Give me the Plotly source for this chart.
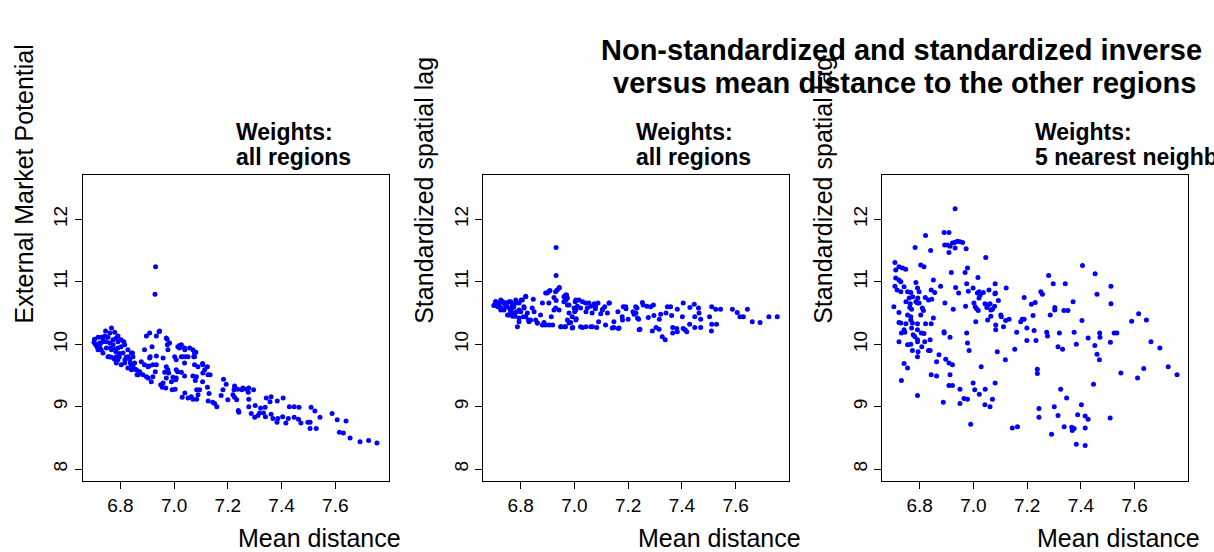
import plotly.graph_objects as go

# ---------------- data (mean distance, value) ----------------
# Panel 1: External market potential vs mean distance (weights: all regions)
emp_points = [
    (6.745,10.21),(6.767,10.26),(6.761,10.18),(6.779,10.19),(6.791,10.13),(6.785,10.10),(6.773,10.07),
    (6.754,10.11),(6.742,10.13),(6.729,10.11),(6.717,10.11),(6.704,10.08),(6.702,10.03),(6.710,9.99),
    (6.723,10.02),(6.735,10.04),(6.748,10.04),(6.761,10.02),(6.773,9.99),(6.791,10.04),(6.803,10.07),
    (6.813,10.04),(6.816,9.99),(6.803,9.96),(6.791,9.94),(6.779,9.92),(6.767,9.91),(6.748,9.94),
    (6.729,9.91),(6.723,9.95),(6.717,9.91),(6.735,9.86),(6.754,9.80),(6.767,9.79),(6.785,9.80),
    (6.797,9.85),(6.810,9.86),(6.822,9.79),(6.828,9.91),(6.841,9.86),(6.847,9.80),(6.791,9.75),
    (6.785,9.70),(6.803,9.67),(6.816,9.70),(6.835,9.75),(6.841,9.67),(6.853,9.70),(6.847,9.64),
    (6.828,9.62),(6.841,9.59),(6.860,9.59),(6.872,9.56),(6.866,9.51),(6.884,9.51),(6.897,9.48),
    (6.903,9.46),(6.915,9.40),(6.921,9.48),(6.890,9.67),(6.903,9.64),(6.921,9.67),(6.934,9.67),
    (6.930,9.56),(6.959,9.78),(6.977,9.91),(6.975,9.99),(6.983,10.02),(6.971,10.10),(7.002,9.80),
    (7.014,9.96),(7.027,9.99),(7.020,9.94),(7.039,9.94),(7.058,9.94),(7.070,9.91),(7.076,9.86),
    (7.076,9.80),(7.052,9.80),(7.033,9.80),(7.039,9.70),(7.076,9.67),(7.089,9.64),(7.107,9.67),
    (7.114,9.59),(7.126,9.51),(7.107,9.54),(7.083,9.48),(7.070,9.49),(7.039,9.49),(7.027,9.55),
    (7.008,9.59),(6.977,9.59),(6.965,9.55),(6.971,9.46),(6.990,9.40),(7.008,9.46),(6.959,9.38),
    (6.897,10.13),(6.909,10.18),(6.934,10.13),(6.946,10.21),(6.918,9.96),(6.890,9.91),(6.909,9.78),
    (6.878,9.72),(6.934,9.81),(6.931,11.24),(6.929,10.80),
    (6.707,10.00),(6.713,9.96),(6.726,10.01),(6.736,10.10),(6.759,9.80),(6.763,9.94),(6.778,9.76),
    (6.783,9.88),(6.796,9.80),(6.817,9.75),(6.829,9.80),(6.837,9.70),(6.845,9.86),(6.853,9.60),
    (6.862,9.51),(6.872,9.54),(6.907,9.65),(6.911,9.80),(6.944,10.20),
    (6.950,9.35),(6.956,9.31),(6.969,9.30),(6.980,9.54),(6.993,9.27),(7.004,9.28),(7.006,9.43),
    (7.013,9.56),(7.030,9.15),(7.040,9.22),(7.052,9.14),(7.064,9.16),(7.070,9.12),(7.084,9.12),
    (7.084,9.27),(7.089,9.19),(7.095,9.27),(7.079,9.42),(7.106,9.40),(7.106,9.69),(7.124,9.64),
    (7.130,9.21),(7.127,9.09),(7.124,9.31),(7.134,9.51),(7.081,9.87),(7.073,9.80),(7.043,9.80),
    (7.040,9.91),(7.027,9.80),(7.020,9.98),(7.008,9.75),(6.996,9.47),(6.974,10.08),(6.971,9.64),
    (7.144,9.07),(7.151,9.05),(7.159,9.00),(7.175,9.18),(7.182,9.27),(7.184,9.44),(7.194,9.36),
    (7.200,9.11),(7.219,9.19),(7.223,9.27),(7.225,9.33),(7.225,9.15),(7.233,9.11),(7.237,9.28),
    (7.239,8.94),(7.241,8.91),(7.252,9.27),(7.256,9.30),(7.269,9.28),(7.278,9.30),(7.276,9.23),
    (7.278,9.12),(7.278,9.00),(7.287,8.89),(7.296,9.27),(7.300,8.83),(7.302,9.02),(7.312,8.86),
    (7.318,8.90),(7.322,8.98),(7.333,8.90),(7.339,8.99),(7.340,8.84),(7.343,9.14),(7.357,9.08),
    (7.361,9.16),(7.361,8.88),(7.368,8.81),(7.384,9.09),(7.383,8.75),(7.386,8.81),(7.404,8.84),
    (7.406,9.14),(7.416,8.74),(7.425,8.81),(7.429,9.00),(7.447,9.00),(7.447,8.83),(7.463,8.80),
    (7.465,8.99),(7.472,8.74),(7.498,8.75),(7.506,8.65),(7.506,8.75),(7.510,8.99),(7.524,8.93),
    (7.529,8.65),(7.543,8.83),(7.588,8.89),(7.607,8.79),(7.615,8.59),(7.630,8.58),(7.640,8.77),
    (7.655,8.50),(7.692,8.44),(7.724,8.46),(7.755,8.42),
]

# Panel 2: standardized spatial lag (weights: all regions)
lag_all_points = [
    (6.932,11.55),(6.932,11.10),(7.755,10.44),(7.724,10.44),(7.691,10.35),(7.662,10.36),(7.644,10.56),
    (7.629,10.44),(7.616,10.44),(7.606,10.51),(7.588,10.56),(7.544,10.56),(7.529,10.32),(7.526,10.56),
    (7.511,10.60),(7.511,10.32),(7.510,10.21),(7.503,10.44),(7.470,10.27),(7.470,10.40),(7.464,10.50),
    (7.462,10.58),(7.448,10.27),(7.448,10.44),(7.446,10.64),(7.430,10.59),(7.429,10.32),(7.418,10.20),
    (7.412,10.23),(7.405,10.25),(7.405,10.66),(7.402,10.44),(7.383,10.56),(7.383,10.20),(7.381,10.25),
    (7.366,10.18),(7.366,10.27),(7.362,10.46),(7.358,10.60),(7.346,10.60),(7.341,10.50),(7.338,10.07),
    (7.327,10.12),(7.321,10.48),(7.315,10.24),(7.316,10.40),(7.304,10.27),(7.296,10.46),(7.294,10.63),
    (7.290,10.21),(7.284,10.60),(7.275,10.43),(7.270,10.61),(7.256,10.63),(7.253,10.67),(7.244,10.24),
    (7.239,10.40),(7.233,10.58),(7.229,10.50),(7.228,10.60),(7.222,10.48),(7.218,10.52),(7.200,10.40),
    (7.192,10.57),(7.182,10.60),(7.178,10.44),(7.164,10.25),(7.162,10.52),(7.147,10.27),(7.147,10.36),
    (7.130,10.66),(7.123,10.50),(7.116,10.31),(7.113,10.60),(7.105,10.56),(7.098,10.49),(7.090,10.36),
    (7.088,10.66),(7.083,10.27),(7.078,10.57),(7.074,10.65),(7.067,10.28),(7.066,10.50),(7.061,10.61),
    (7.054,10.66),(7.048,10.58),(7.043,10.28),(7.043,10.52),(7.030,10.27),(7.030,10.68),(7.023,10.58),
    (7.017,10.71),(7.011,10.61),(7.007,10.41),(7.003,10.68),(7.001,10.52),(6.999,10.58),(6.994,10.27),
    (6.986,10.35),(6.980,10.50),(6.974,10.63),(6.971,10.79),(6.968,10.71),(6.961,10.76),(6.964,10.28),
    (6.951,10.28),(6.944,10.91),(6.936,10.87),(6.932,10.70),(6.930,10.58),(6.924,10.75),(6.919,10.31),
    (6.914,10.44),(6.909,10.86),(6.905,10.66),(6.899,10.82),(6.893,10.31),(6.887,10.35),(6.881,10.66),
    (6.874,10.47),(6.862,10.34),(6.856,10.39),(6.850,10.52),(6.847,10.72),(6.843,10.58),(6.837,10.39),
    (6.831,10.36),(6.825,10.50),(6.819,10.77),(6.812,10.60),(6.810,10.44),(6.802,10.71),(6.800,10.52),
    (6.794,10.42),(6.788,10.28),(6.781,10.66),(6.776,10.50),(6.769,10.58),(6.763,10.68),(6.757,10.47),
    (6.750,10.60),(6.744,10.66),(6.738,10.55),(6.732,10.68),(6.726,10.58),(6.719,10.66),(6.713,10.61),
    (6.707,10.68),(6.703,10.63),(6.726,10.71),
    (6.707,10.68),(6.720,10.63),(6.732,10.68),(6.745,10.60),(6.757,10.68),(6.769,10.63),(6.782,10.71),
    (6.794,10.66),(6.806,10.71),(6.763,10.52),(6.751,10.47),(6.776,10.47),(6.794,10.55),(6.813,10.58),
    (6.726,10.55),(6.819,10.76),(6.829,10.39),(6.794,10.36),(6.819,10.44),(6.700,10.62),(6.712,10.65),
    (6.716,10.60),(6.740,10.64),(6.748,10.66),(6.760,10.57),(6.775,10.60),(6.785,10.52),(6.770,10.45),
    (6.780,10.45),(6.893,10.82),(6.906,10.85),(6.930,10.84),(6.943,10.90),(6.924,10.55),(6.943,10.55),
    (6.974,10.74),(6.967,10.79),(6.961,10.68),(6.980,10.63),(7.005,10.71),(7.042,10.66),(7.079,10.60),
    (7.104,10.55),(7.129,10.66),(6.992,10.44),(7.005,10.55),(6.974,10.39),(7.005,10.39),(6.980,10.34),
    (6.862,10.34),(6.881,10.31),(6.906,10.31),(6.949,10.28),(6.967,10.28),(6.992,10.26),(7.023,10.28),
    (7.061,10.28),(7.141,10.26),(7.166,10.26),(7.241,10.23),(7.179,10.39),(7.191,10.60),(7.235,10.42),
]

# Panel 3: standardized spatial lag (weights: 5 nearest neighbours)
lag_knn_points = [
    (6.932,12.17),(6.891,11.79),(6.909,11.79),(6.822,11.74),(6.893,11.59),(6.903,11.59),(6.913,11.57),
    (6.922,11.62),(6.930,11.63),(6.940,11.65),(6.950,11.64),(6.960,11.63),(6.932,11.54),(6.909,11.47),
    (6.973,11.53),(6.783,11.55),(6.841,11.50),(7.046,11.39),(6.804,11.27),(6.816,11.24),(7.406,11.26),
    (6.708,11.31),(6.723,11.24),(6.736,11.22),(6.748,11.20),(6.711,11.19),(6.978,11.22),(6.969,11.15),
    (6.918,11.15),(7.453,11.13),(7.280,11.10),(7.017,11.07),(6.851,11.03),(6.711,11.06),(6.723,11.03),
    (6.730,11.00),(6.786,10.99),(6.878,10.93),(6.975,10.97),(7.081,10.97),(7.297,10.97),(7.342,10.97),
    (7.512,10.93),(6.934,10.91),(6.742,10.92),(6.708,10.93),(6.716,10.87),(6.730,10.84),(6.755,10.84),
    (6.767,10.83),(6.792,10.90),(6.798,10.84),(6.843,10.87),(6.856,10.83),(6.945,10.82),(6.981,10.85),
    (6.999,10.90),(7.021,10.84),(7.037,10.83),(7.058,10.87),(7.122,10.90),(7.251,10.84),(7.257,10.80),
    (7.460,10.80),(7.082,10.82),(7.015,10.82),(6.774,10.76),(6.793,10.74),(6.821,10.75),(6.833,10.71),
    (6.845,10.72),(6.749,10.68),(6.761,10.74),(6.765,10.65),(6.786,10.68),(6.792,10.66),(6.798,10.66),
    (7.021,10.74),(7.025,10.79),(7.093,10.70),(7.080,10.81),(7.189,10.75),(7.230,10.67),(7.216,10.64),
    (7.371,10.68),(7.512,10.65),(6.704,10.60),(6.763,10.59),(6.770,10.56),(6.810,10.58),(6.814,10.54),
    (6.894,10.66),(6.925,10.56),(6.971,10.61),(7.002,10.66),(7.007,10.60),(7.012,10.57),(7.018,10.54),
    (7.043,10.65),(7.050,10.59),(7.055,10.63),(7.062,10.65),(7.071,10.56),(7.079,10.61),(7.065,10.55),
    (7.102,10.47),(7.104,10.44),(7.120,10.38),(7.133,10.40),(7.176,10.36),(7.182,10.40),(7.189,10.40),
    (7.222,10.46),(7.303,10.59),(7.303,10.55),(7.286,10.47),(7.337,10.54),(7.352,10.54),(7.404,10.38),
    (7.589,10.37),(7.615,10.49),(7.644,10.39),(6.723,10.51),(6.755,10.47),(6.767,10.44),(6.804,10.47),
    (6.851,10.42),(6.843,10.33),(6.822,10.33),(6.767,10.39),(6.723,10.35),(6.730,10.34),(6.749,10.33),
    (6.773,10.34),(6.792,10.33),(7.009,10.36),(7.053,10.39),(7.065,10.45),(7.083,10.31),(7.112,10.28),
    (6.891,10.20),(6.891,10.18),(7.083,10.23),(7.161,10.19),(7.199,10.26),(7.226,10.22),(7.273,10.19),
    (7.276,10.13),(7.320,10.18),(7.375,10.19),(7.470,10.18),(7.471,10.11),(7.524,10.18),(7.534,10.18),
    (7.427,10.10),(6.742,10.23),(6.732,10.18),(6.745,10.19),(6.770,10.26),(6.792,10.23),(6.776,10.15),
    (6.782,10.12),(6.792,10.07),(6.806,10.18),(6.816,10.17),(6.819,10.04),(6.839,10.07),(6.723,10.04),
    (6.755,9.99),(6.767,10.00),(6.792,10.04),(6.808,9.96),(6.913,10.11),(6.975,10.18),(6.978,10.02),
    (7.199,10.06),(7.233,10.06),(7.383,10.00),(7.510,10.03),(7.452,9.98),(7.315,9.96),(7.332,9.92),
    (6.984,9.90),(7.089,9.88),(7.154,9.92),(6.833,9.90),(6.839,9.90),(6.773,9.90),(6.794,9.88),
    (6.792,9.80),(6.872,9.83),(6.897,9.76),(6.909,9.70),(6.922,9.67),(6.863,9.72),(7.119,9.75),
    (7.460,9.84),(7.469,9.75),(6.742,9.69),(6.755,9.62),(7.029,9.64),(7.238,9.60),(7.238,9.53),
    (7.549,9.54),(7.634,9.61),(7.611,9.46),(7.758,9.51),(7.725,9.64),(7.694,9.94),(7.661,10.04),
    (6.843,9.51),(6.863,9.49),(6.913,9.51),(6.732,9.42),(7.447,9.36),(7.081,9.38),(6.999,9.38),
    (6.909,9.34),(6.922,9.34),(6.950,9.28),(7.005,9.27),(7.044,9.28),(7.325,9.28),(7.022,9.20),
    (6.792,9.18),(7.347,9.14),(6.965,9.13),(6.978,9.12),(7.071,9.12),(6.950,9.05),(6.888,9.07),
    (7.043,9.03),(7.062,9.00),(7.301,9.00),(7.402,9.03),(7.244,8.97),(7.315,8.86),(7.388,8.87),
    (7.416,8.85),(7.427,8.80),(7.244,8.83),(7.509,8.82),(6.990,8.72),(7.145,8.66),(7.164,8.68),
    (7.338,8.68),(7.366,8.67),(7.368,8.62),(7.375,8.65),(7.416,8.66),(7.291,8.56),(7.383,8.40),
    (7.416,8.38),
]

x_ticks = [6.8, 7.0, 7.2, 7.4, 7.6]
x_tick_labels = ["6.8", "7.0", "7.2", "7.4", "7.6"]
y_ticks = [8, 9, 10, 11, 12]
y_tick_labels = ["8", "9", "10", "11", "12"]

panel_ylabels = ["External Market Potential", "Standardized spatial lag", "Standardized spatial lag"]
panel_weights = ["all regions", "all regions", "5 nearest neighbours"]
x_label = "Mean distance"
title_lines = ["Non-standardized and standardized inverse",
               "versus mean distance to the other regions"]

# ---------------- figure ----------------
W, H = 1214, 552
FONT = "Liberation Sans, Arial, Helvetica, sans-serif"
panel_left_px = [83.0, 483.3, 882.3]
panel_width_px = 305.5
plot_top_px, plot_bottom_px = 175.0, 481.0
x_range = [6.661, 7.798]
y_range = [7.81, 12.71]

fig = go.Figure()
datasets = [emp_points, lag_all_points, lag_knn_points]
for i, pts in enumerate(datasets):
    xs = [p[0] for p in pts]
    ys = [p[1] for p in pts]
    suffix = "" if i == 0 else str(i + 1)
    fig.add_trace(go.Scatter(
        x=xs, y=ys, mode="markers",
        marker=dict(color="#0000FF", size=5, line=dict(width=0)),
        xaxis="x" + suffix, yaxis="y" + suffix, showlegend=False,
        hoverinfo="x+y",
    ))

axis_common = dict(
    showgrid=False, zeroline=False, showline=True, linecolor="#000000", linewidth=1,
    mirror=True, ticks="outside", ticklen=7, tickwidth=1, tickcolor="#000000",
    tickfont=dict(family=FONT, size=19, color="#000000"),
)

layout = dict(
    width=W, height=H, margin=dict(l=0, r=0, t=0, b=0),
    paper_bgcolor="white", plot_bgcolor="white",
    font=dict(family=FONT, color="#000000"),
    showlegend=False,
)

annotations = []
ydom = [1 - plot_bottom_px / H, 1 - plot_top_px / H]
for i in range(3):
    suffix = "" if i == 0 else str(i + 1)
    L = panel_left_px[i]
    xdom = [L / W, (L + panel_width_px) / W]
    layout["xaxis" + suffix] = dict(
        axis_common, domain=xdom, range=x_range, anchor="y" + suffix,
        tickmode="array", tickvals=x_ticks, ticktext=x_tick_labels,
    )
    layout["yaxis" + suffix] = dict(
        axis_common, domain=ydom, range=y_range, anchor="x" + suffix,
        tickmode="array", tickvals=y_ticks, ticktext=y_tick_labels, tickangle=-90,
    )
    # panel headings
    annotations.append(dict(
        text="<b>Weights:</b>", xref="paper", yref="paper",
        x=(L + 151) / W, y=1 - 132 / H, xanchor="left", yanchor="middle",
        showarrow=False, font=dict(family=FONT, size=23, color="#000000")))
    annotations.append(dict(
        text="<b>" + panel_weights[i] + "</b>", xref="paper", yref="paper",
        x=(L + 151) / W, y=1 - 157 / H, xanchor="left", yanchor="middle",
        showarrow=False, font=dict(family=FONT, size=23, color="#000000")))
    # x label
    annotations.append(dict(
        text=x_label, xref="paper", yref="paper",
        x=(L + 153) / W, y=1 - 538 / H, xanchor="left", yanchor="middle",
        showarrow=False, font=dict(family=FONT, size=25, color="#000000")))
    # y label
    annotations.append(dict(
        text=panel_ylabels[i], xref="paper", yref="paper",
        x=(L - 60) / W, y=1 - 326 / H, xanchor="center", yanchor="bottom",
        textangle=-90, showarrow=False,
        font=dict(family=FONT, size=25, color="#000000")))

annotations.append(dict(
    text="<b>" + title_lines[0] + "</b>", xref="paper", yref="paper",
    x=599 / W, y=1 - 50 / H, xanchor="left", yanchor="middle", showarrow=False,
    font=dict(family=FONT, size=29, color="#000000")))
annotations.append(dict(
    text="<b>" + title_lines[1] + "</b>", xref="paper", yref="paper",
    x=611 / W, y=1 - 83 / H, xanchor="left", yanchor="middle", showarrow=False,
    font=dict(family=FONT, size=29, color="#000000")))

layout["annotations"] = annotations
fig.update_layout(**layout)
fig.write_html(
    "out.html",
    config={"displayModeBar": False},
    post_script="document.body.style.margin='0px';document.body.style.overflow='hidden';",
)
